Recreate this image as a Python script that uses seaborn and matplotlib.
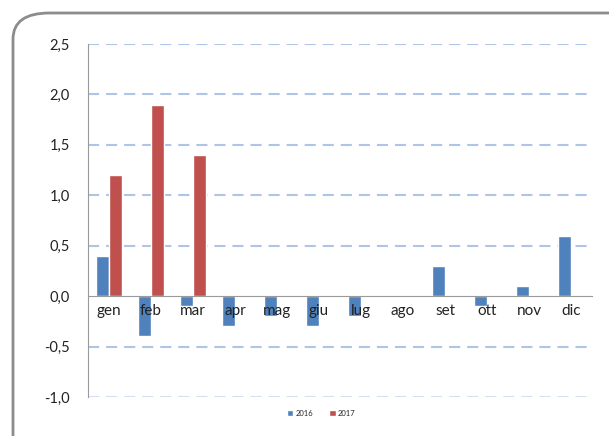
import numpy as np
import pandas as pd
import matplotlib
matplotlib.use("Agg")
import matplotlib.pyplot as plt
import seaborn as sns
from matplotlib.patches import FancyBboxPatch

months = ["gen", "feb", "mar", "apr", "mag", "giu", "lug", "ago", "set", "ott", "nov", "dic"]
vals_2016 = [0.4, -0.4, -0.1, -0.3, -0.2, -0.3, -0.2, 0.0, 0.3, -0.1, 0.1, 0.6]
vals_2017 = [1.2, 1.9, 1.4, np.nan, np.nan, np.nan, np.nan, np.nan, np.nan, np.nan, np.nan, np.nan]
series = ["2016", "2017"]
colors = ["#4F81BD", "#C0504D"]
yticks = [-1.0, -0.5, 0.0, 0.5, 1.0, 1.5, 2.0, 2.5]

df = pd.DataFrame({
    "mese": months * 2,
    "anno": [series[0]] * 12 + [series[1]] * 12,
    "valore": vals_2016 + vals_2017,
})

sns.set_style("white")
plt.rcParams["font.family"] = ["Lato", "DejaVu Sans"]
plt.rcParams["lines.scale_dashes"] = False

fig = plt.figure(figsize=(6.09, 4.36), dpi=100)
ax = fig.add_axes([88 / 609, 1 - 397 / 436, (592 - 88) / 609, (397 - 44) / 436])

# rounded frame
frame = FancyBboxPatch((13 / 609, -0.2), 1.2, 1.2 - 13 / 436,
                       boxstyle="round,pad=0,rounding_size=0.06",
                       transform=fig.transFigure, facecolor="none",
                       edgecolor="#8C8C8C", linewidth=2.0, zorder=0)
fig.patches.append(frame)

sns.barplot(data=df, x="mese", y="valore", hue="anno", order=months,
            hue_order=series, palette=colors, width=0.6, saturation=1,
            ax=ax, zorder=2, legend=True)

ax.set_ylim(-1.0, 2.5)
ax.set_xlim(-0.5, 11.5)
ax.set_yticks(yticks)
ax.set_yticklabels([f"{v:.1f}".replace(".", ",") for v in yticks], fontsize=10.5, color="#222222")
for v in yticks:
    if v != 0:
        ax.axhline(v, color="#B0C4E8" if v != -1.0 else "#D5DFF2", linewidth=1.5,
                   linestyle=(0, (8, 5)), zorder=1)

ax.set_xlabel("")
ax.set_ylabel("")
ax.spines["top"].set_visible(False)
ax.spines["right"].set_visible(False)
ax.spines["left"].set_color("#9A9A9A")
ax.spines["bottom"].set_color("#9A9A9A")
ax.spines["bottom"].set_position(("data", 0))
ax.set_axisbelow(False)

ax.set_xticks(range(12))
ax.set_xticklabels(months, fontsize=11, color="#222222")
ax.set_xticks(np.arange(-0.5, 12, 1), minor=True)
ax.tick_params(axis="x", which="major", length=0, pad=6)
ax.tick_params(axis="x", which="minor", length=4, color="#9A9A9A", direction="out")
ax.tick_params(axis="y", length=5, color="#9A9A9A", direction="out", pad=8)

leg = ax.legend(loc="center", bbox_to_anchor=(321 / 609, 1 - 413 / 436), bbox_transform=fig.transFigure,
                ncol=2, frameon=False, fontsize=5.5, handlelength=0.9, handleheight=0.9,
                handletextpad=0.3, columnspacing=2.0)

fig.savefig("out.png", dpi=100)
